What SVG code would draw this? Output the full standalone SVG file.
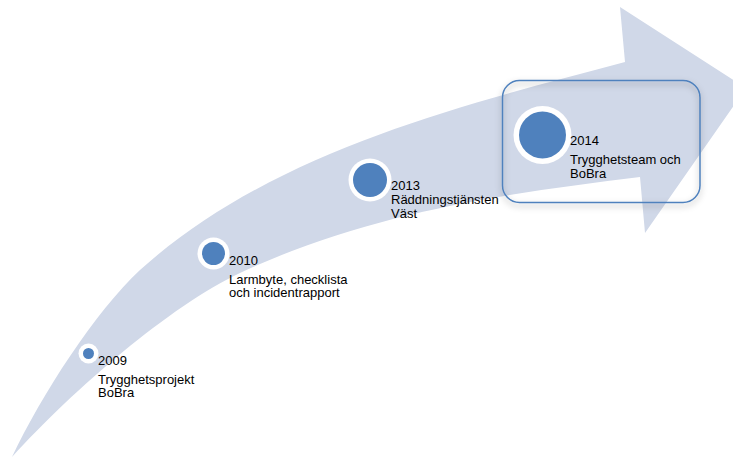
<svg xmlns="http://www.w3.org/2000/svg" width="733" height="459" viewBox="0 0 733 459">
  <style>
    .lbl { font-family: "Liberation Sans", Arial, sans-serif; font-size: 13px; fill: #000000; }
    .ring { fill: #FFFFFF; }
    .dot { fill: #4F81BD; }
    .band { fill: #D0D8E8; }
  </style>
  <defs>
    <filter id="shadow" x="-10%" y="-10%" width="120%" height="130%">
      <feDropShadow dx="0" dy="3" stdDeviation="3" flood-color="#000000" flood-opacity="0.35"/>
    </filter>
  </defs>
  <rect width="733" height="459" fill="#FFFFFF"/>

  <g id="arrow">
    <path class="band" d="M12,457 C42,394 95,312 140,270 C270,153 455,107 625,62 L620,7 L746,88 L645,233 L640,177 C510,193 370,212 240,273 C170,306 75,388 12,457 Z"/>
  </g>

  <g id="connectors"></g>

  <g id="node-2009">
    <circle class="ring" cx="88.5" cy="353.5" r="10"/>
    <circle class="dot" cx="88.5" cy="353.5" r="5.5"/>
    <text class="lbl" x="98" y="365">2009</text>
    <text class="lbl" x="98" y="384">Trygghetsprojekt</text>
    <text class="lbl" x="98" y="397">BoBra</text>
  </g>

  <g id="node-2010">
    <circle class="ring" cx="213.5" cy="253.5" r="16"/>
    <circle class="dot" cx="213.5" cy="253.5" r="11.5"/>
    <text class="lbl" x="229" y="265">2010</text>
    <text class="lbl" x="229" y="284">Larmbyte, checklista</text>
    <text class="lbl" x="229" y="297">och incidentrapport</text>
  </g>

  <g id="node-2013">
    <circle class="ring" cx="370" cy="180" r="21.5"/>
    <circle class="dot" cx="370" cy="180" r="17"/>
    <text class="lbl" x="391" y="190">2013</text>
    <text class="lbl" x="391" y="204">Räddningstjänsten</text>
    <text class="lbl" x="391" y="217.5">Väst</text>
  </g>

  <g id="node-2014">
    <circle class="ring" cx="542.5" cy="135" r="29"/>
    <circle class="dot" cx="542.5" cy="135" r="23.5"/>
    <text class="lbl" x="570" y="145">2014</text>
    <text class="lbl" x="570" y="164">Trygghetsteam och</text>
    <text class="lbl" x="570" y="178">BoBra</text>
    <rect x="502.5" y="80.5" width="197.5" height="122" rx="17" ry="17" fill="none" stroke="#4F81BD" stroke-width="1.5" filter="url(#shadow)"/>
  </g>
</svg>
